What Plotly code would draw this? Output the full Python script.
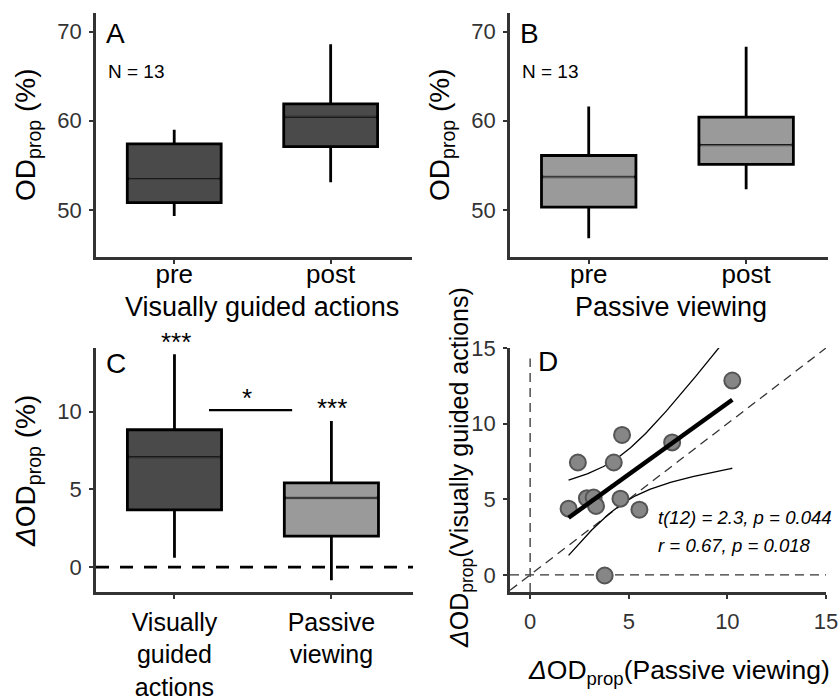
import numpy as np
import plotly.graph_objects as go

# ---- data -------------------------------------------------------------
# Box summaries: [q1, median, q3, lower whisker, upper whisker]
vga_pre = [50.8, 53.5, 57.4, 49.3, 59.0]
vga_post = [57.1, 60.4, 61.9, 53.1, 68.6]
pv_pre = [50.3, 53.7, 56.1, 46.8, 61.6]
pv_post = [55.1, 57.3, 60.4, 52.3, 68.3]
delta_vga = [3.68, 7.1, 8.84, 0.6, 13.7]
delta_pv = [2.0, 4.45, 5.42, -0.84, 9.4]

phase_labels = ["pre", "post"]
delta_labels = ["Visually<br>guided<br>actions", "Passive<br>viewing"]

# Per-subject change scores (passive viewing vs. visually guided actions)
d_passive = [10.25, 4.66, 7.20, 2.42, 4.24, 2.88, 3.22, 4.58, 1.95, 3.34, 5.54, 3.78]
d_guided = [12.85, 9.25, 8.76, 7.43, 7.43, 5.07, 5.11, 5.04, 4.38, 4.56, 4.31, -0.04]

DARK = "#4a4a4a"
LIGHT = "#9a9a9a"
AX = "#333333"
FONT = "Liberation Sans, Arial, Helvetica, sans-serif"

W, H = 840, 700


def fx(p):
    return p / W


def fy(p):
    return 1 - p / H


fig = go.Figure()


def add_box(xa, ya, pos, stats, color):
    q1, med, q3, lo, hi = stats
    fig.add_trace(go.Box(
        x=[pos], q1=[q1], median=[med], q3=[q3], lowerfence=[lo], upperfence=[hi],
        width=0.6, whiskerwidth=0, fillcolor=color, line=dict(color="black", width=2.8),
        boxpoints=False, hoverinfo="skip", xaxis=xa, yaxis=ya, showlegend=False,
    ))
    # thinner median line drawn over the box's own median
    fig.add_trace(go.Scatter(
        x=[pos - 0.288, pos + 0.288], y=[med, med], mode="lines",
        line=dict(color=color, width=3.4), xaxis=xa, yaxis=ya,
        showlegend=False, hoverinfo="skip",
    ))
    fig.add_trace(go.Scatter(
        x=[pos - 0.288, pos + 0.288], y=[med, med], mode="lines",
        line=dict(color="#1a1a1a", width=1.4), xaxis=xa, yaxis=ya,
        showlegend=False, hoverinfo="skip",
    ))


# Panel A / B: pre vs post
add_box("x", "y", 1, vga_pre, DARK)
add_box("x", "y", 2, vga_post, DARK)
add_box("x2", "y2", 1, pv_pre, LIGHT)
add_box("x2", "y2", 2, pv_post, LIGHT)

# Panel C: change scores
fig.add_trace(go.Scatter(x=[0.5, 2.52], y=[0, 0], mode="lines",
                         line=dict(color="black", width=2.6, dash="13px,11px"),
                         xaxis="x3", yaxis="y3", showlegend=False, hoverinfo="skip"))
add_box("x3", "y3", 1, delta_vga, DARK)
add_box("x3", "y3", 2, delta_pv, LIGHT)
fig.add_trace(go.Scatter(x=[1.22, 1.75], y=[10.1, 10.1], mode="lines",
                         line=dict(color="black", width=2.2),
                         xaxis="x3", yaxis="y3", showlegend=False, hoverinfo="skip"))

# Panel D: scatter with regression fit and 95% confidence band
xd = np.array(d_passive)
yd = np.array(d_guided)
n = len(xd)
slope, intercept = np.polyfit(xd, yd, 1)
resid = yd - (slope * xd + intercept)
s = np.sqrt(np.sum(resid ** 2) / (n - 2))
sxx = np.sum((xd - xd.mean()) ** 2)
t_crit = 2.228  # two-sided 95%, df = 10
xs = np.linspace(xd.min(), xd.max(), 120)
fit = slope * xs + intercept
half = t_crit * s * np.sqrt(1 / n + (xs - xd.mean()) ** 2 / sxx)

DX = [-1.02, 15]
DY = [-1.13, 15]
dash_d = dict(color="#333333", width=1.3, dash="9px,6px")
fig.add_trace(go.Scatter(x=DX, y=[0, 0], mode="lines", line=dash_d,
                         xaxis="x4", yaxis="y4", showlegend=False, hoverinfo="skip"))
fig.add_trace(go.Scatter(x=[0, 0], y=[DY[0], 14.3], mode="lines", line=dash_d,
                         xaxis="x4", yaxis="y4", showlegend=False, hoverinfo="skip"))
fig.add_trace(go.Scatter(x=DX, y=DX, mode="lines", line=dash_d,
                         xaxis="x4", yaxis="y4", showlegend=False, hoverinfo="skip"))
for band in (fit + half, fit - half):
    fig.add_trace(go.Scatter(x=xs, y=band, mode="lines",
                             line=dict(color="black", width=1.3),
                             xaxis="x4", yaxis="y4", showlegend=False, hoverinfo="skip"))
fig.add_trace(go.Scatter(x=xd, y=yd, mode="markers",
                         marker=dict(size=16, color="#868686",
                                     line=dict(color="#555555", width=2)),
                         xaxis="x4", yaxis="y4", showlegend=False, hoverinfo="skip"))
fig.add_trace(go.Scatter(x=xs, y=fit, mode="lines",
                         line=dict(color="black", width=4.5),
                         xaxis="x4", yaxis="y4", showlegend=False, hoverinfo="skip"))

# ---- axes -------------------------------------------------------------
tickfont = dict(family=FONT, size=22, color=AX)


def xaxis(dom, rng, tickvals, ticktext, font_size, standoff):
    return dict(domain=dom, range=rng, tickvals=tickvals, ticktext=ticktext,
                showline=True, linecolor=AX, linewidth=2.6, ticks="outside",
                ticklen=4, tickwidth=2, tickcolor=AX, showgrid=False, zeroline=False,
                tickfont=dict(family=FONT, size=font_size, color="black"),
                ticklabelstandoff=standoff, fixedrange=True, automargin=False)


def yaxis(dom, rng, tickvals, anchor):
    return dict(domain=dom, range=rng, tickvals=tickvals, anchor=anchor,
                showline=True, linecolor=AX, linewidth=2.6, ticks="outside",
                ticklen=4, tickwidth=2, tickcolor=AX, showgrid=False, zeroline=False,
                tickfont=tickfont, ticklabelstandoff=3, fixedrange=True, automargin=False)


top_y = [fy(257), fy(13)]
bot_y = [fy(592), fy(348)]

fig.update_layout(
    width=W, height=H, margin=dict(l=0, r=0, t=0, b=0, pad=0, autoexpand=False),
    paper_bgcolor="white", plot_bgcolor="white", showlegend=False,
    font=dict(family=FONT, color="black"),
    xaxis=xaxis([fx(96), fx(412)], [0.5, 2.52], [1, 2], phase_labels, 26, -12),
    yaxis=yaxis(top_y, [44.7, 72.1], [50, 60, 70], "x"),
    xaxis2=dict(xaxis([fx(510), fx(828)], [0.5, 2.52], [1, 2], phase_labels, 26, -12), anchor="y2"),
    yaxis2=yaxis(top_y, [44.7, 72.1], [50, 60, 70], "x2"),
    xaxis3=dict(xaxis([fx(96), fx(413)], [0.5, 2.52], [1, 2], delta_labels, 25, 2), anchor="y3"),
    yaxis3=yaxis(bot_y, [-1.6, 14.1], [0, 5, 10], "x3"),
    xaxis4=dict(xaxis([fx(510), fx(826)], DX, [0, 5, 10, 15], ["0", "5", "10", "15"], 22, 4),
                anchor="y4", tickfont=tickfont),
    yaxis4=yaxis(bot_y, DY, [0, 5, 10, 15], "x4"),
)

# ---- text -------------------------------------------------------------
ann = []


def text(x, y, s, size, xanchor="center", yanchor="middle", angle=0, italic=False, color="black"):
    ann.append(dict(x=fx(x), y=fy(y), xref="paper", yref="paper", text=s,
                    showarrow=False, xanchor=xanchor, yanchor=yanchor, textangle=angle,
                    font=dict(family=FONT, size=size, color=color,
                              style="italic" if italic else "normal")))


OD = "OD<sub>prop</sub>"
DOD = "<i>Δ</i>OD<sub>prop</sub>"

text(27, 135, OD + " (%)", 28, angle=-90)
text(441, 135, OD + " (%)", 28, angle=-90)
text(27, 471, DOD + " (%)", 28, angle=-90)
text(461, 468, DOD + "(Visually guided actions)", 25, angle=-90)
text(262, 307, "Visually guided actions", 27)
text(671, 307, "Passive viewing", 27)
text(679, 672, DOD + "(Passive viewing)", 26.5)

text(104, 33, "A", 28, xanchor="left")
text(518, 33, "B", 28, xanchor="left")
text(104, 363, "C", 28, xanchor="left")
text(536, 361, "D", 28, xanchor="left")
text(106, 71, "N = 13", 19, xanchor="left")
text(520, 71, "N = 13", 19, xanchor="left")

text(176, 342, "***", 26)
text(332, 408, "***", 26)
text(247, 398, "*", 26)

text(656, 517, "t(12) = 2.3, p = 0.044", 18.6, xanchor="left", italic=True)
text(656, 545, "r = 0.67, p = 0.018", 18.6, xanchor="left", italic=True)

fig.update_layout(annotations=ann)

# page without default body margin, so the 840x700 figure fills the window exactly
fig.write_html(
    "out.html",
    config={"displayModeBar": False},
    post_script="document.body.style.margin='0';document.body.style.overflow='hidden';",
)
